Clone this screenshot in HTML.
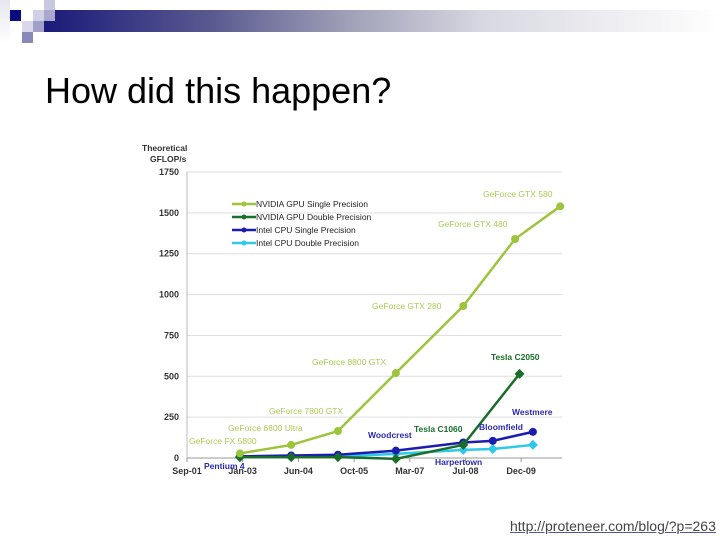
<!DOCTYPE html>
<html><head><meta charset="utf-8"><style>
body{margin:0;width:720px;height:540px;background:#fff;position:relative;overflow:hidden;font-family:"Liberation Sans",sans-serif}
.sq{position:absolute}
#title{position:absolute;left:45px;top:70px;font-size:36px;color:#000}
#url{position:absolute;left:510px;top:518px;font-size:14px;color:#444;text-decoration:underline;text-decoration-color:#559}
</style></head><body>
<div class="sq" style="left:44px;top:10px;width:676px;height:22px;background:linear-gradient(to right,#1a1a7a,#5a5a90 25%,#a0a0b8 45%,#d8d8e2 65%,#fff)"></div>
<div class="sq" style="left:0;top:0;width:10px;height:43px;background:linear-gradient(#e6e6f0,#fff)"></div>
<div class="sq" style="left:10px;top:10px;width:11px;height:11px;background:#0a0a80"></div>
<div class="sq" style="left:44px;top:0;width:11px;height:10px;background:#c8c8e0"></div>
<div class="sq" style="left:33px;top:10px;width:11px;height:11px;background:#d0d0e6"></div>
<div class="sq" style="left:44px;top:10px;width:11px;height:11px;background:#a8a8cc"></div>
<div class="sq" style="left:22px;top:21px;width:11px;height:11px;background:#d8d8ea"></div>
<div class="sq" style="left:33px;top:21px;width:11px;height:11px;background:#a0a0c8"></div>
<div class="sq" style="left:22px;top:32px;width:11px;height:11px;background:#8888b8"></div>
<div id="title">How did this happen?</div>
<svg id="chart" width="720" height="540" style="position:absolute;left:0;top:0"></svg>
<div id="url">http://proteneer.com/blog/?p=263</div>
<script>
const xLabels=["Sep-01","Jan-03","Jun-04","Oct-05","Mar-07","Jul-08","Dec-09"];
const yTicks=[0,250,500,750,1000,1250,1500,1750];
const spX=[0.95,1.87,2.71,3.75,4.96,5.89,6.7];
const spY=[28,80,165,520,930,1340,1540];
const dpX=[0.95,1.87,2.71,3.75,4.96,5.97];
const dpY=[5,5,5,-5,80,515];
const isX=[0.95,1.87,2.71,3.75,4.96,5.49,6.21];
const isY=[10,15,20,45,95,105,160];
const idX=[0.95,1.87,2.71,3.75,4.96,5.49,6.21];
const idY=[5,8,10,25,50,55,80];
const seriesNames=["NVIDIA GPU Single Precision","NVIDIA GPU Double Precision","Intel CPU Single Precision","Intel CPU Double Precision"];
const colors=["#9cc43c","#1a6e2a","#1c1cb0","#30c8e8"];
const X=i=>187+i*55.7, Y=v=>458-v*286/1750;
const svg=document.getElementById('chart');const NS="http://www.w3.org/2000/svg";
function mk(t,a,p){const e=document.createElementNS(NS,t);for(const k in a)e.setAttribute(k,a[k]);(p||svg).appendChild(e);return e;}
function txt(x,y,s,a){const e=mk('text',Object.assign({x:x,y:y,'font-size':9,'font-family':'Liberation Sans, sans-serif'},a));e.textContent=s;return e;}
yTicks.forEach(v=>{const g=mk('line',{x1:187,x2:562,y1:Y(v),y2:Y(v),stroke:v?'#ddd':'#999','stroke-width':1});


const t=txt(179,Y(v)+3,v,{'text-anchor':'end','font-weight':'bold',fill:'#333'});

});
mk('line',{x1:187,x2:187,y1:172,y2:458,stroke:'#bbb'});
xLabels.forEach((s,i)=>{const t=txt(X(i),474,s,{'text-anchor':'middle','font-weight':'bold',fill:'#333'});


mk('line',{x1:X(i),x2:X(i),y1:458,y2:462,stroke:'#999'});});
const yt=txt(142,151,'Theoretical',{'font-weight':'bold',fill:'#333','font-size':8.5});


txt(150,162,'GFLOP/s',{'font-weight':'bold',fill:'#333','font-size':8.5});
function series(xs,ys,c,name,marker){
 const pl=mk('polyline',{points:xs.map((x,i)=>X(x)+','+Y(ys[i])).join(' '),fill:'none',stroke:c,'stroke-width':2.5});
 
 
 xs.forEach((x,i)=>{let m;
  if(marker==='d'){const cx=X(x),cy=Y(ys[i]);m=mk('polygon',{points:`${cx},${cy-5} ${cx+5},${cy} ${cx},${cy+5} ${cx-5},${cy}`,fill:c});}
  else m=mk('circle',{cx:X(x),cy:Y(ys[i]),r:4,fill:c});
  
  });
}
series(idX,idY,colors[3],'intel-dp','d');
series(isX,isY,colors[2],'intel-sp','c');
series(dpX,dpY,colors[1],'nvidia-dp','d');
series(spX,spY,colors[0],'nvidia-sp','c');
seriesNames.forEach((n,i)=>{const y=204+i*13;
 const l=mk('line',{x1:232,x2:256,y1:y,y2:y,stroke:colors[i],'stroke-width':2.5});
 
 
 mk('circle',{cx:244,cy:y,r:2.5,fill:colors[i]});
 const t=txt(256,y+3,n,{'font-size':8.5,fill:'#222'});
 
 });
const ann=[["GeForce GTX 580",483,197,0],["GeForce GTX 480",438,227,0],["GeForce GTX 280",372,309,0],["GeForce 8800 GTX",312,365,0],["GeForce 7800 GTX",269,414,0],["GeForce 6800 Ultra",228,431,0],["GeForce FX 5800",189,444,0],
["Tesla C2050",491,360,1],["Tesla C1060",414,432,1],["Westmere",512,415,2],["Bloomfield",479,430,2],["Woodcrest",368,438,2],["Harpertown",435,465,2],["Pentium 4",204,469,2]];
ann.forEach(a=>{const t=txt(a[1],a[2],a[0],{fill:a[3]===0?'#a8cc50':a[3]===1?'#1a6e2a':'#2a2ab0','font-weight':a[3]?'bold':'normal','font-size':8.5});
 
 });
</script>
</body></html>
